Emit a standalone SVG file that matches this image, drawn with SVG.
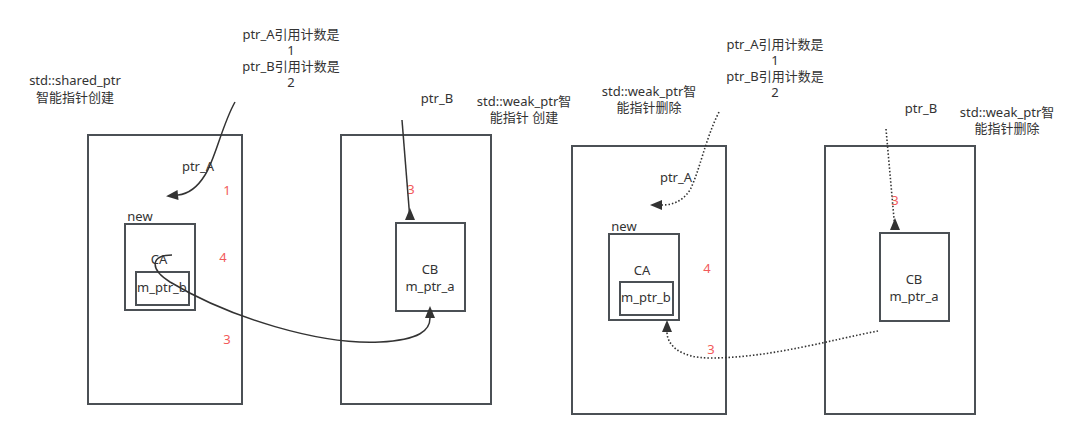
<svg xmlns="http://www.w3.org/2000/svg" width="1083" height="439" viewBox="0 0 1083 439">
<defs>
<style>
.box{fill:none;stroke:#4b5055;stroke-width:2}
.t{font-family:"Noto Sans","Noto Sans CJK SC",sans-serif;font-size:13px;fill:#333;text-anchor:middle}
.r{font-family:"Noto Sans","Noto Sans CJK SC",sans-serif;font-size:13px;fill:#f25a5a;text-anchor:middle}
.ln{fill:none;stroke:#333;stroke-width:1.5}
.dot{fill:none;stroke:#333;stroke-width:1.6;stroke-dasharray:1.5 2}
</style>
<marker id="ah" markerUnits="userSpaceOnUse" markerWidth="14" markerHeight="12" refX="0" refY="5" orient="auto" overflow="visible">
<path d="M0,0 L12,5 L0,10 Z" fill="#333" stroke="none"/>
</marker>
<marker id="up" markerUnits="userSpaceOnUse" markerWidth="14" markerHeight="12" refX="0" refY="5" orient="270" overflow="visible">
<path d="M0,0 L12,5 L0,10 Z" fill="#333" stroke="none"/>
</marker>
</defs>
<rect width="1083" height="439" fill="#fff"/>

<g id="left-labels">
<text class="t" x="75" y="85">std::shared_ptr</text>
<text class="t" x="75" y="102">智能指针创建</text>
<text class="t" x="291" y="39">ptr_A引用计数是</text>
<text class="t" x="291" y="55">1</text>
<text class="t" x="291" y="71">ptr_B引用计数是</text>
<text class="t" x="291" y="87">2</text>
<text class="t" x="437" y="103">ptr_B</text>
<text class="t" x="524" y="106">std::weak_ptr智</text>
<text class="t" x="524" y="122">能指针 创建</text>
</g>

<g id="boxA1">
<rect class="box" x="88" y="135" width="154" height="269"/>
<text class="t" x="198" y="171">ptr_A</text>
<text class="r" x="227" y="195">1</text>
<text class="r" x="223" y="262">4</text>
<text class="r" x="227" y="344">3</text>
</g>
<g id="CA1">
<text class="t" x="140" y="221">new</text>
<rect class="box" x="125" y="224" width="70" height="86"/>
<text class="t" x="159" y="264">CA</text>
</g>
<g id="mptrb1">
<rect class="box" x="136" y="272" width="53" height="33"/>
<text class="t" x="162" y="292">m_ptr_b</text>
</g>
<g id="boxB1">
<rect class="box" x="341" y="135" width="150" height="269"/>
<text class="r" x="411" y="194">3</text>
</g>
<g id="CB1">
<rect class="box" x="396" y="223" width="69" height="88"/>
<text class="t" x="430" y="274">CB</text>
<text class="t" x="430" y="291">m_ptr_a</text>
</g>

<g id="right-labels">
<text class="t" x="775" y="49">ptr_A引用计数是</text>
<text class="t" x="775" y="65">1</text>
<text class="t" x="775" y="81">ptr_B引用计数是</text>
<text class="t" x="775" y="97">2</text>
<text class="t" x="649" y="96">std::weak_ptr智</text>
<text class="t" x="649" y="112">能指针删除</text>
<text class="t" x="921" y="113">ptr_B</text>
<text class="t" x="1007" y="117">std::weak_ptr智</text>
<text class="t" x="1007" y="133">能指针删除</text>
</g>

<g id="boxA2">
<rect class="box" x="572" y="146" width="154" height="268"/>
<text class="t" x="676" y="182">ptr_A</text>
<text class="r" x="707" y="273">4</text>
<text class="r" x="711" y="354">3</text>
</g>
<g id="CA2">
<text class="t" x="624" y="231">new</text>
<rect class="box" x="609" y="234" width="70" height="86"/>
<text class="t" x="642" y="275">CA</text>
</g>
<g id="mptrb2">
<rect class="box" x="620" y="282" width="53" height="33"/>
<text class="t" x="646" y="302">m_ptr_b</text>
</g>
<g id="boxB2">
<rect class="box" x="825" y="146" width="150" height="268"/>
<text class="r" x="895" y="205">3</text>
</g>
<g id="CB2">
<rect class="box" x="880" y="233" width="69" height="88"/>
<text class="t" x="914" y="284">CB</text>
<text class="t" x="914" y="301">m_ptr_a</text>
</g>

<g id="connectors">
<path class="ln" d="M235,102 C222,125 215,160 205,175 C197,188 188,194 178,195" marker-end="url(#ah)"/>
<path class="ln" d="M402,120 L410,220" marker-end="url(#up)"/>
<path class="ln" d="M172,255 C152,255 148,268 170,282 C230,318 320,345 380,342 C420,340 430,330 430,318" marker-end="url(#ah)"/>
<path class="dot" d="M719,112 C705,140 700,170 690,190 C682,202 672,205 662,205" marker-end="url(#ah)"/>
<path class="dot" d="M886,129 L895,230" marker-end="url(#up)"/>
<path class="dot" d="M878,331 C830,340 770,358 710,358 C680,358 667,345 667,332" marker-end="url(#ah)"/>
</g>
</svg>
